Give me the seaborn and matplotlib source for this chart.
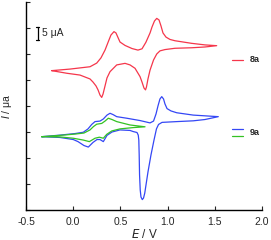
import numpy as np
import pandas as pd
import matplotlib
matplotlib.use("Agg")
import matplotlib.pyplot as plt
import seaborn as sns

# ---- data (E in V, I in uA, stacked offsets as shown) ----
red_fwd_E = [-0.228, -0.034, 0.178, 0.249, 0.294, 0.337, 0.379, 0.400, 0.432, 0.453, 0.475, 0.496, 0.549, 0.623,
             0.686, 0.729, 0.770, 0.814, 0.835, 0.861, 0.885, 0.909, 0.930, 0.951, 0.983, 1.025, 1.078, 1.255,
             1.396, 1.520]
red_fwd_I = [53.6, 54.2, 55.1, 56.5, 58.5, 61.5, 65.4, 67.3, 68.6, 68.1, 66.3, 64.6, 63.3, 62.1,
             61.5, 62.0, 64.5, 68.1, 70.4, 72.7, 73.7, 73.1, 70.8, 68.1, 66.5, 65.6, 65.1, 64.1,
             63.5, 63.2]
red_rev_E = [1.396, 1.255, 1.078, 0.972, 0.919, 0.885, 0.851, 0.814, 0.792, 0.776, 0.766, 0.750, 0.729, 0.708,
             0.655, 0.602, 0.549, 0.461, 0.390, 0.358, 0.337, 0.316, 0.302, 0.284, 0.263, 0.242, 0.210, 0.178,
             0.072, -0.069, -0.228]
red_rev_I = [62.7, 62.4, 62.2, 61.7, 61.2, 60.0, 57.7, 53.8, 50.4, 47.3, 46.2, 46.9, 49.2, 51.3,
             54.5, 55.8, 56.4, 55.8, 53.2, 50.8, 47.7, 44.6, 43.3, 44.2, 46.2, 47.7, 49.2, 50.4,
             51.9, 52.6, 53.6]

blue_fwd_E = [-0.334, -0.140, 0.019, 0.107, 0.157, 0.196, 0.231, 0.284, 0.319, 0.358, 0.390, 0.422, 0.461, 0.567,
              0.708, 0.814, 0.851, 0.877, 0.898, 0.919, 0.938, 0.957, 0.972, 0.994, 1.036, 1.097, 1.272, 1.537]
blue_fwd_I = [28.2, 28.8, 29.4, 29.9, 31.2, 32.9, 34.0, 34.2, 35.0, 36.5, 37.2, 36.7, 35.9, 35.3,
              34.4, 33.5, 34.2, 36.9, 40.0, 42.7, 43.6, 42.7, 40.8, 39.0, 38.1, 37.4, 36.5, 35.9]
blue_rev_E = [1.396, 1.272, 1.097, 0.941, 0.904, 0.882, 0.856, 0.824, 0.792, 0.771, 0.758, 0.745, 0.732, 0.718,
              0.710, 0.703, 0.699, 0.695, 0.689, 0.676, 0.633, 0.602, 0.496, 0.411, 0.358, 0.319, 0.284, 0.252,
              0.210, 0.160, 0.114, 0.051, 0.001, -0.140, -0.334]
blue_rev_I = [34.8, 34.3, 34.0, 33.7, 32.9, 31.2, 26.9, 21.2, 14.6, 9.6, 6.5, 4.6, 4.0, 5.0,
              7.7, 13.5, 21.2, 26.9, 28.8, 29.8, 30.2, 30.6, 30.8, 30.0, 28.7, 26.3, 27.1, 27.1,
              26.0, 24.2, 24.8, 26.3, 27.1, 27.9, 28.2]

green_fwd_E = [-0.334, -0.140, 0.019, 0.114, 0.178, 0.215, 0.249, 0.302, 0.337, 0.372, 0.411, 0.461, 0.602, 0.761]
green_fwd_I = [28.2, 28.7, 29.2, 29.6, 30.8, 32.1, 33.0, 33.3, 34.2, 35.3, 34.8, 34.0, 32.7, 32.0]
green_rev_E = [0.637, 0.496, 0.408, 0.355, 0.319, 0.277, 0.231, 0.171, 0.107, 0.001, -0.140, -0.334]
green_rev_I = [31.7, 31.2, 30.4, 29.1, 27.6, 28.0, 27.6, 26.3, 26.9, 27.6, 28.1, 28.2]

x_ticks = [-0.5, 0.0, 0.5, 1.0, 1.5, 2.0]
y_ticks = [0, 10, 20, 30, 40, 50, 60, 70, 80]

curves = {
    "8a": (red_fwd_E + red_rev_E, red_fwd_I + red_rev_I, "#f5364b"),
    "9a": (blue_fwd_E + blue_rev_E, blue_fwd_I + blue_rev_I, "#3447f5"),
    "9a-2": (green_fwd_E + green_rev_E, green_fwd_I + green_rev_I, "#34c224"),
}

sns.set_style("ticks")
plt.rcParams["font.family"] = ["Liberation Sans", "DejaVu Sans"]

fig = plt.figure(figsize=(2.71, 2.40), dpi=100)
ax = fig.add_axes([26 / 271, 30 / 240, 236 / 271, 208 / 240])

for name, (E, I, col) in curves.items():
    df = pd.DataFrame({"E": E, "I": I})
    sns.lineplot(data=df, x="E", y="I", sort=False, estimator=None, color=col, lw=0.9, ax=ax)

ax.set_xlim(-0.5, 2.0)
ax.set_ylim(0, 80)
ax.set_xticks(x_ticks)
ax.set_xticklabels([f"{t:.1f}" for t in x_ticks], fontsize=7.5)
ax.set_yticks(y_ticks)
ax.set_yticklabels([])
ax.tick_params(direction="in", length=3, width=0.8, pad=5)
for s in ["top", "right"]:
    ax.spines[s].set_visible(False)
for s in ["left", "bottom"]:
    ax.spines[s].set_linewidth(1.0)
    ax.spines[s].set_color("black")

ax.set_xlabel("$\\mathit{E}$ / V", fontsize=8.5, labelpad=1)
ax.set_ylabel("$\\mathit{I}$ / μa", fontsize=7.5)
ax.yaxis.set_label_coords(-0.05, 0.5)

# scale bar
ax.plot([-0.376, -0.376], [65.4, 70.4], color="black", lw=0.9)
ax.plot([-0.392, -0.360], [70.4, 70.4], color="black", lw=0.9)
ax.plot([-0.392, -0.360], [65.4, 65.4], color="black", lw=0.9)
ax.text(-0.33, 67.9, "5 μA", fontsize=7.5, va="center", ha="left")

# legend
ax.plot([1.682, 1.798], [57.7, 57.7], color=curves["8a"][2], lw=0.9)
ax.text(1.872, 57.7, "8a", fontsize=6.5, fontweight="bold", va="center")
ax.plot([1.682, 1.798], [31.2, 31.2], color=curves["9a"][2], lw=0.9)
ax.plot([1.682, 1.798], [28.5, 28.5], color=curves["9a-2"][2], lw=0.9)
ax.text(1.872, 29.8, "9a", fontsize=6.5, fontweight="bold", va="center")

fig.savefig("out.png", dpi=100)
